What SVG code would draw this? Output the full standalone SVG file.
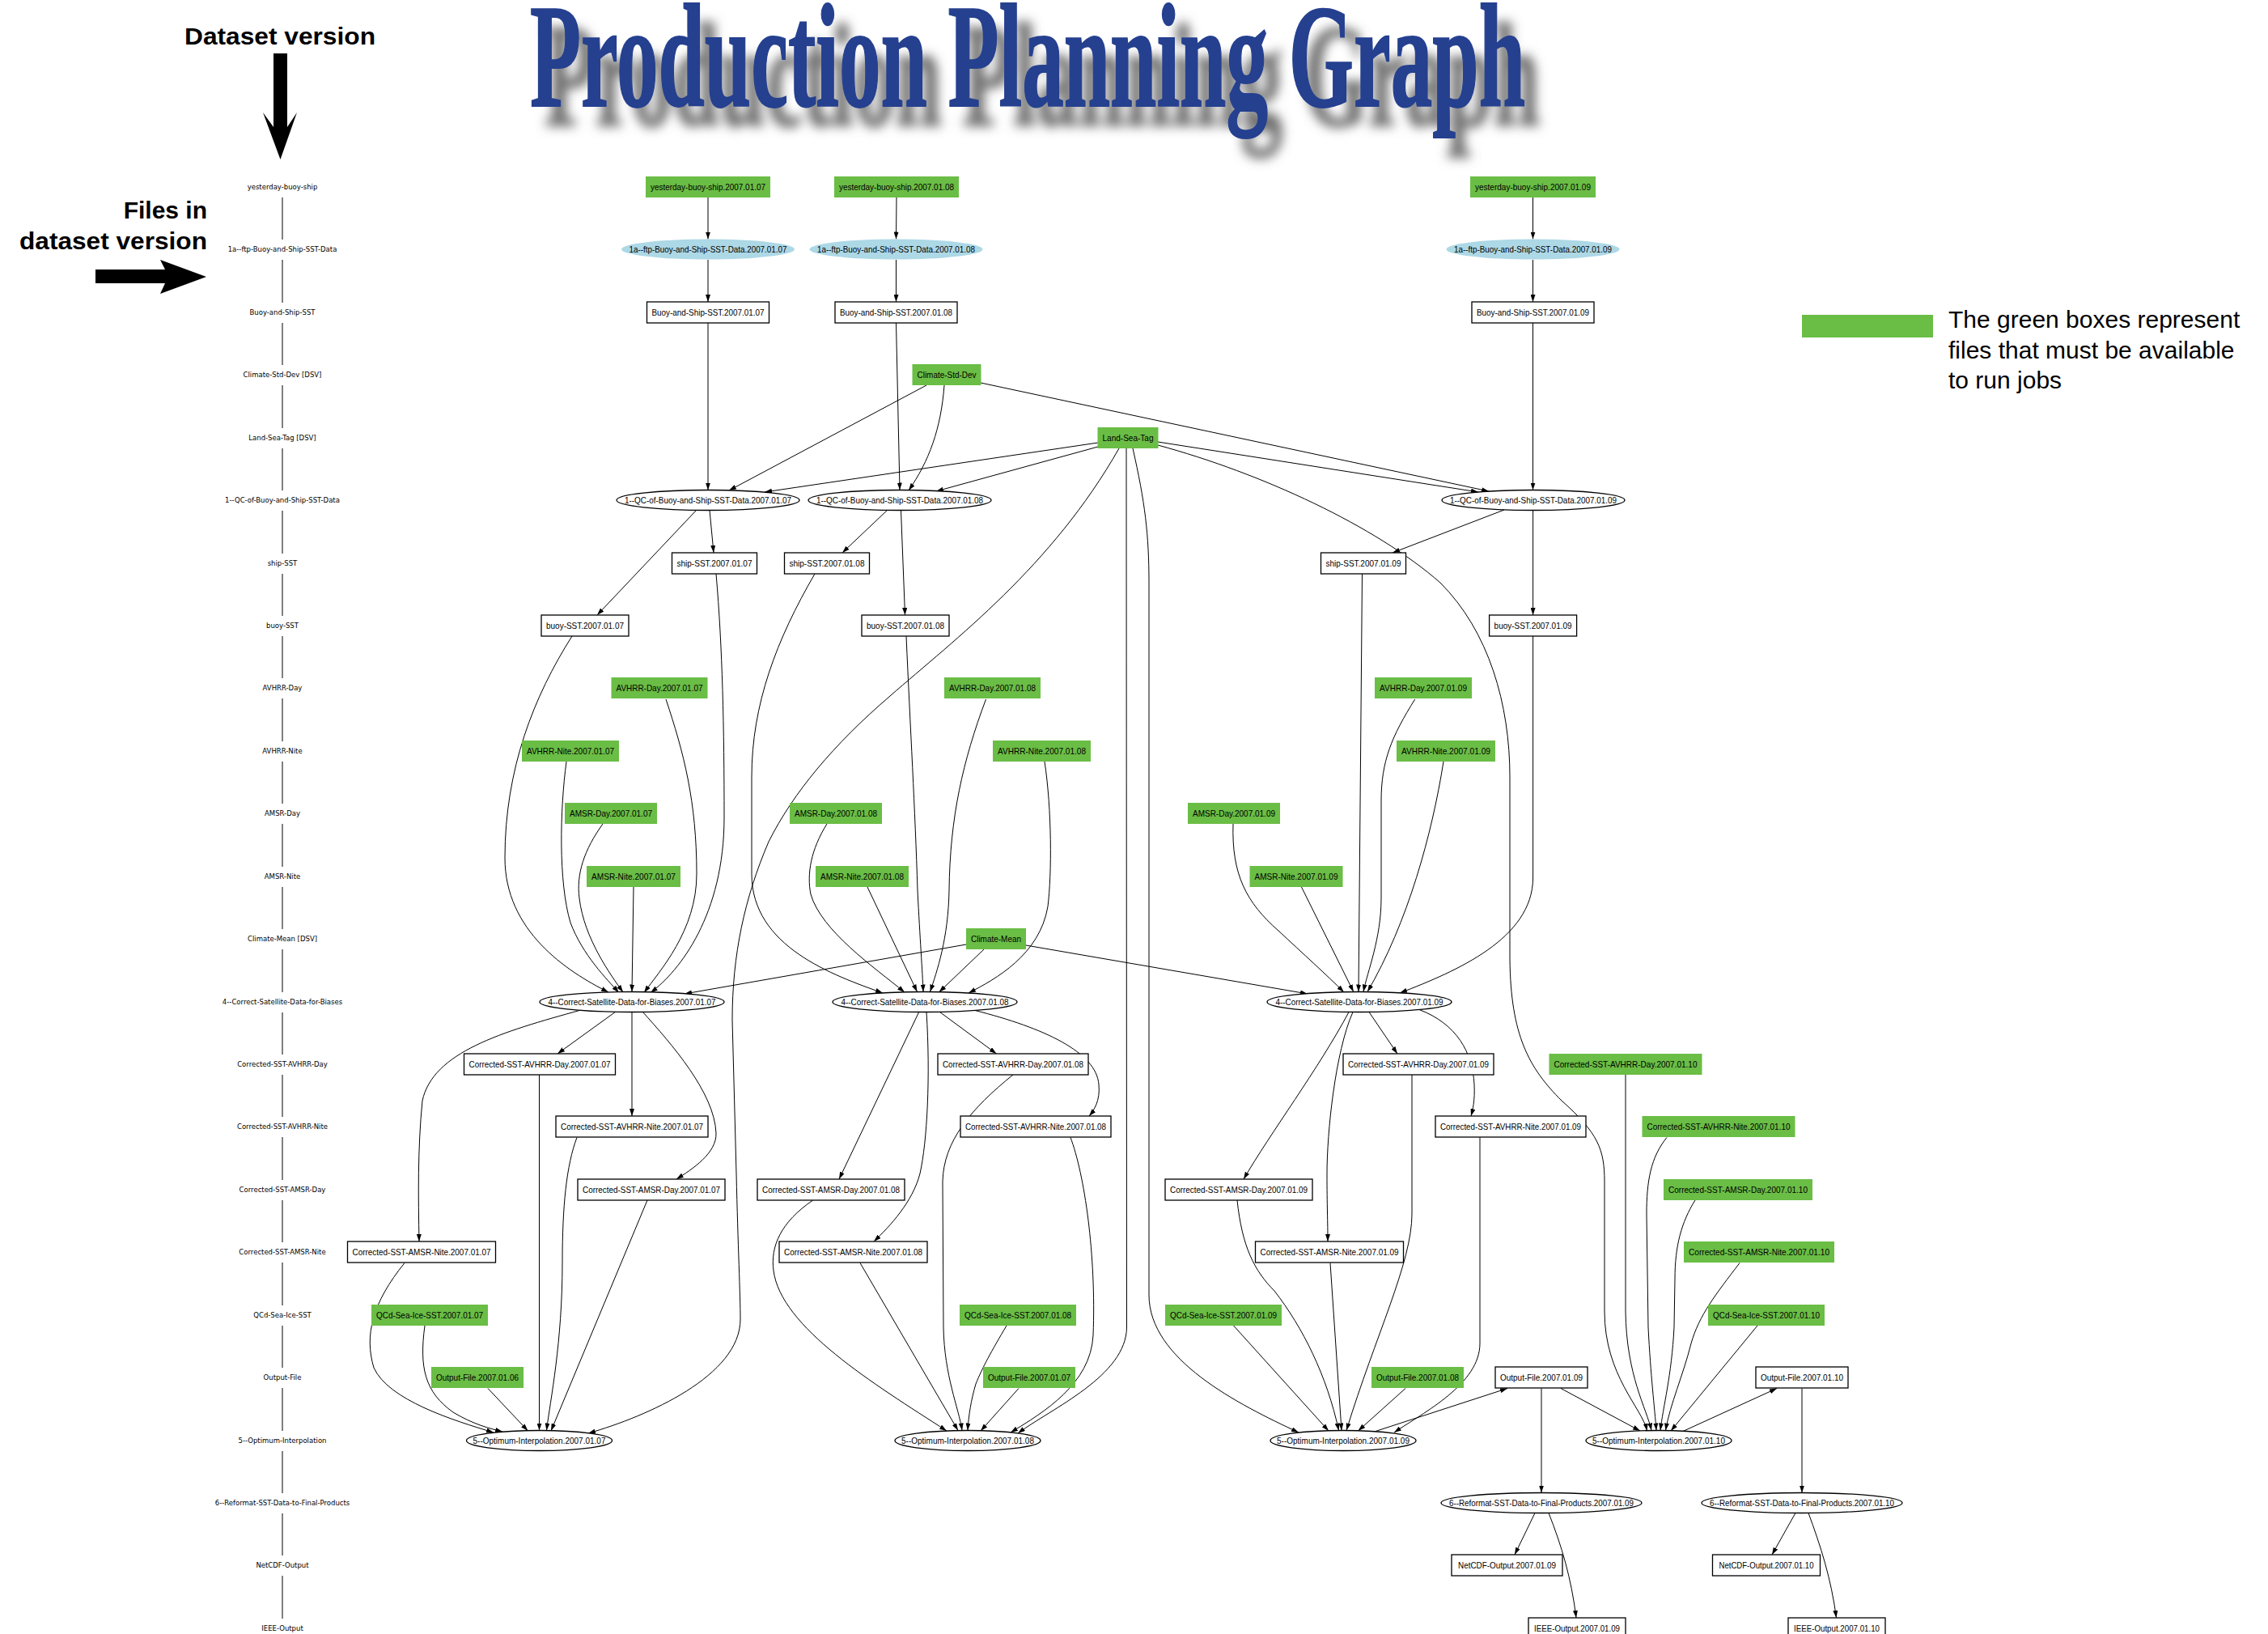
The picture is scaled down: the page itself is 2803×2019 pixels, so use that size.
<svg xmlns="http://www.w3.org/2000/svg" xmlns:xlink="http://www.w3.org/1999/xlink" width="2803" height="2019" viewBox="0 0 2803 2019">
<defs>
<style>
.g{fill:#6abd45}
.w{fill:#fff;stroke:#000;stroke-width:1.3}
.b{fill:#add8e6}
.o{fill:#fff;stroke:#000;stroke-width:1.3}
.t{font-family:'Liberation Sans',Arial,sans-serif;font-size:11px;text-anchor:middle;fill:#000}
.l{font-family:'DejaVu Sans',sans-serif;font-size:8.5px;text-anchor:middle;fill:#000}
.big{font-family:'Liberation Sans',Arial,sans-serif;font-weight:bold;font-size:30px;fill:#000}
.leg{font-family:'Liberation Sans',Arial,sans-serif;font-size:30px;fill:#000}
#edges path{fill:none;stroke:#000;stroke-width:1;marker-end:url(#ar)}
#axis line{stroke:#000;stroke-width:1}
</style>
<marker id="ar" viewBox="0 0 9 6" refX="9" refY="3" markerWidth="9" markerHeight="6" markerUnits="userSpaceOnUse" orient="auto"><path d="M0,0 L9,3 L0,6 z" fill="#000"/></marker>
<filter id="blur" x="-5%" y="-30%" width="110%" height="160%"><feGaussianBlur stdDeviation="7"/></filter>
</defs>
<rect width="2803" height="2019" fill="#fff"/>

<g id="title">
<use xlink:href="#ttl" href="#ttl" transform="translate(18,24)" filter="url(#blur)" fill="#6e6e6e" stroke="#6e6e6e"/>
<g fill="#25408f" stroke="#25408f">
<text id="ttl" x="655" y="131" font-family="'Liberation Serif',serif" font-weight="bold" font-size="183" stroke-width="2" textLength="1230" lengthAdjust="spacingAndGlyphs">Production Planning Graph</text>
</g>
</g>

<g id="annotations">
<text class="big" x="228" y="55" textLength="236" lengthAdjust="spacingAndGlyphs">Dataset version</text>
<polygon points="338,66 355,66 355,157 367,139 346.5,197 325,139 338,157" fill="#000"/>
<text class="big" x="256" y="270" text-anchor="end">Files in</text>
<text class="big" x="256" y="308" text-anchor="end" textLength="232" lengthAdjust="spacingAndGlyphs">dataset version</text>
<polygon points="118,333 204,333 198,321 255,342 198,363 204,350 118,350" fill="#000"/>
</g>

<g id="legend">
<rect x="2227" y="389" width="162" height="28" fill="#6abd45"/>
<text class="leg" x="2408" y="405">The green boxes represent</text>
<text class="leg" x="2408" y="443">files that must be available</text>
<text class="leg" x="2408" y="480">to run jobs</text>
</g>

<g id="axis">
<text class="l" x="349" y="234">yesterday-buoy-ship</text>
<text class="l" x="349" y="311">1a--ftp-Buoy-and-Ship-SST-Data</text>
<text class="l" x="349" y="389">Buoy-and-Ship-SST</text>
<text class="l" x="349" y="466">Climate-Std-Dev [DSV]</text>
<text class="l" x="349" y="544">Land-Sea-Tag [DSV]</text>
<text class="l" x="349" y="621">1--QC-of-Buoy-and-Ship-SST-Data</text>
<text class="l" x="349" y="699">ship-SST</text>
<text class="l" x="349" y="776">buoy-SST</text>
<text class="l" x="349" y="853">AVHRR-Day</text>
<text class="l" x="349" y="931">AVHRR-Nite</text>
<text class="l" x="349" y="1008">AMSR-Day</text>
<text class="l" x="349" y="1086">AMSR-Nite</text>
<text class="l" x="349" y="1163">Climate-Mean [DSV]</text>
<text class="l" x="349" y="1241">4--Correct-Satellite-Data-for-Biases</text>
<text class="l" x="349" y="1318">Corrected-SST-AVHRR-Day</text>
<text class="l" x="349" y="1395">Corrected-SST-AVHRR-Nite</text>
<text class="l" x="349" y="1473">Corrected-SST-AMSR-Day</text>
<text class="l" x="349" y="1550">Corrected-SST-AMSR-Nite</text>
<text class="l" x="349" y="1628">QCd-Sea-Ice-SST</text>
<text class="l" x="349" y="1705">Output-File</text>
<text class="l" x="349" y="1783">5--Optimum-Interpolation</text>
<text class="l" x="349" y="1860">6--Reformat-SST-Data-to-Final-Products</text>
<text class="l" x="349" y="1937">NetCDF-Output</text>
<text class="l" x="349" y="2015">IEEE-Output</text>
<line x1="349" y1="244" x2="349" y2="296"/>
<line x1="349" y1="321" x2="349" y2="374"/>
<line x1="349" y1="399" x2="349" y2="451"/>
<line x1="349" y1="476" x2="349" y2="529"/>
<line x1="349" y1="554" x2="349" y2="606"/>
<line x1="349" y1="631" x2="349" y2="684"/>
<line x1="349" y1="709" x2="349" y2="761"/>
<line x1="349" y1="786" x2="349" y2="838"/>
<line x1="349" y1="863" x2="349" y2="916"/>
<line x1="349" y1="941" x2="349" y2="993"/>
<line x1="349" y1="1018" x2="349" y2="1071"/>
<line x1="349" y1="1096" x2="349" y2="1148"/>
<line x1="349" y1="1173" x2="349" y2="1226"/>
<line x1="349" y1="1251" x2="349" y2="1303"/>
<line x1="349" y1="1328" x2="349" y2="1380"/>
<line x1="349" y1="1405" x2="349" y2="1458"/>
<line x1="349" y1="1483" x2="349" y2="1535"/>
<line x1="349" y1="1560" x2="349" y2="1613"/>
<line x1="349" y1="1638" x2="349" y2="1690"/>
<line x1="349" y1="1715" x2="349" y2="1768"/>
<line x1="349" y1="1793" x2="349" y2="1845"/>
<line x1="349" y1="1870" x2="349" y2="1922"/>
<line x1="349" y1="1947" x2="349" y2="2000"/>
</g>

<g id="edges">
<path d="M875,244 L875,295.5"/>
<path d="M875,321 L875,373"/>
<path d="M875,399 L875,605.5"/>
<path d="M1145,476 L901,606"/>
<path d="M1357,547 L945,608"/>
<path d="M877,630.5 L882,683"/>
<path d="M861,630 L738,760"/>
<path d="M707,786 C660,860 624,950 624,1060 C624,1150 700,1200 752,1226"/>
<path d="M700,941 C692,1000 690,1090 705,1140 C720,1180 750,1210 765,1226.5"/>
<path d="M745,1018 C722,1050 712,1080 716,1110 C722,1160 755,1205 770,1226"/>
<path d="M783,1096 L781,1225.5"/>
<path d="M823,864 C845,930 861,990 861,1080 C861,1150 815,1200 796,1226.5"/>
<path d="M885,709 C893,800 895,900 895,1010 C895,1130 840,1200 804,1226.5"/>
<path d="M1194,1167 L846,1228"/>
<path d="M761,1250 L689,1302"/>
<path d="M781,1250.5 L781,1379"/>
<path d="M794,1250 C830,1290 883,1350 885,1400 C886,1425 855,1445 836,1457"/>
<path d="M718,1248 C620,1275 535,1300 522,1360 C516,1420 517,1480 518,1534"/>
<path d="M666.5,1328 L666.5,1767.5"/>
<path d="M713,1405.5 C700,1440 695,1490 695,1560 C695,1660 680,1730 675.5,1767.5"/>
<path d="M800,1483 L681,1768"/>
<path d="M500,1560.5 C460,1610 450,1650 462,1690 C480,1730 560,1755 610,1770"/>
<path d="M525,1638 C518,1690 525,1720 560,1745 C585,1760 605,1765 621,1769"/>
<path d="M603,1715.5 L652.5,1768"/>
<path d="M1383,554 C1300,700 1180,790 1100,860 C1030,920 980,980 950,1040 C920,1110 905,1180 905,1260 L910,1450 C912,1540 915,1600 915,1630 C915,1700 800,1750 727,1771"/>

<path d="M1108,244 L1107.5,295.5"/>
<path d="M1107.5,321 L1107.5,373"/>
<path d="M1107.5,399 L1112,605.5"/>
<path d="M1167,476 C1163,530 1148,570 1123,606"/>
<path d="M1357,552 L1157,607"/>
<path d="M1097,630 L1041,683"/>
<path d="M1113.5,631 L1118.5,760"/>
<path d="M1007,709 C960,790 929,870 929,960 L929,1080 C929,1170 1030,1205 1091,1227"/>
<path d="M1120,786 C1125,900 1131,1000 1134,1100 C1137,1160 1140,1200 1141,1225.5"/>
<path d="M1218.5,864 C1190,940 1174,1010 1173,1100 C1172,1160 1158,1200 1149.5,1225.5"/>
<path d="M1291,941 C1300,1000 1300,1080 1295,1120 C1285,1180 1230,1210 1197,1227"/>
<path d="M1022,1018 C1002,1050 997,1080 1002,1105 C1015,1150 1080,1195 1118,1226"/>
<path d="M1072,1096 L1133.5,1225.5"/>
<path d="M1216,1173 L1160.5,1226"/>
<path d="M1268,1168 L1616,1228"/>
<path d="M1161.5,1250.5 L1231.5,1302"/>
<path d="M1205,1248.5 C1290,1270 1355,1300 1358,1340 C1360,1360 1352,1372 1346,1379"/>
<path d="M1135.7,1250.5 L1037,1457"/>
<path d="M1145,1250.5 C1150,1330 1146,1410 1137,1450 C1128,1485 1100,1515 1080,1534"/>
<path d="M1004.7,1483 C965,1510 952,1540 956,1570 C965,1640 1080,1710 1170,1768"/>
<path d="M1063,1560.5 L1184,1767.5"/>
<path d="M1252,1328 C1200,1370 1166,1410 1165,1460 L1166,1640 C1167,1700 1185,1740 1189,1767.5"/>
<path d="M1244,1638 C1225,1670 1214,1690 1206,1710 C1200,1730 1197,1750 1196,1767.5"/>
<path d="M1259,1715.5 L1212,1768"/>
<path d="M1323,1405.5 C1340,1450 1355,1550 1351,1650 C1348,1710 1290,1745 1249,1770"/>
<path d="M1392,554 L1392.5,1640 C1392,1700 1300,1740 1258,1771"/>

<path d="M1894.5,244 L1894.5,295.5"/>
<path d="M1894.5,321 L1894.5,373"/>
<path d="M1894.5,399 L1894.5,605.5"/>
<path d="M1212,473 L1840,607"/>
<path d="M1431,546 L1827,608"/>
<path d="M1431,550 C1560,585 1700,650 1780,720 C1840,780 1866,870 1866,960 L1866,1185 C1867,1280 1890,1320 1930,1360 C1975,1400 1983,1420 1983,1460 L1983,1620 C1983,1700 2030,1740 2035.5,1768"/>
<path d="M1859,630 L1721,683"/>
<path d="M1894.6,631 L1894.6,760"/>
<path d="M1683.5,709 L1679,1225.5"/>
<path d="M1894.6,786 L1894.6,1085 C1894,1160 1800,1200 1730,1227"/>
<path d="M1748.7,864 C1720,910 1707,940 1707,990 L1707,1110 C1707,1160 1690,1200 1685,1225.5"/>
<path d="M1784,941 C1770,1030 1740,1140 1690,1225.5"/>
<path d="M1524,1018 C1522,1080 1540,1115 1580,1150 C1610,1178 1640,1205 1661,1226"/>
<path d="M1608.5,1096 L1672.8,1225.5"/>
<path d="M1692,1250.5 L1727,1302"/>
<path d="M1754,1247.5 C1800,1265 1820,1300 1822,1340 C1823,1360 1820,1372 1818,1379"/>
<path d="M1667,1250.5 C1630,1320 1570,1400 1537,1457"/>
<path d="M1672,1250.5 C1650,1300 1640,1400 1640,1450 C1640,1490 1641,1510 1641,1534"/>
<path d="M1529,1483 C1535,1540 1550,1570 1575,1595 C1610,1640 1640,1700 1654.5,1767.5"/>
<path d="M1644,1560.5 L1658,1767.5"/>
<path d="M1745,1328 L1745,1500 C1745,1560 1700,1650 1664,1767.5"/>
<path d="M1829,1405.5 L1829,1660 C1829,1710 1760,1745 1723,1770"/>
<path d="M1524.6,1638 L1642,1768"/>
<path d="M1737,1715.5 L1678.5,1768"/>
<path d="M1400,554 C1415,620 1420,660 1420,720 L1420,1600 C1420,1680 1530,1735 1605,1770"/>
<path d="M1700,1768.5 L1863,1715.5"/>
<path d="M1929,1715.5 L2027,1768"/>
<path d="M1905,1715.5 L1905,1844.5"/>
<path d="M1897,1869.5 L1872,1921"/>
<path d="M1914,1869.5 C1930,1910 1942,1950 1948,1999"/>

<path d="M2009,1328 L2009,1620 C2010,1700 2035,1740 2041,1767.5"/>
<path d="M2060,1405.5 C2040,1430 2035,1460 2035,1500 L2037,1640 C2040,1700 2045,1740 2047,1767.5"/>
<path d="M2095,1483 C2078,1510 2070,1540 2070,1580 L2069,1640 C2066,1700 2055,1740 2052,1767.5"/>
<path d="M2150,1560.5 C2120,1600 2100,1625 2090,1660 C2080,1700 2064,1735 2058.5,1767.5"/>
<path d="M2172,1638 L2065,1768"/>
<path d="M2080,1768.5 L2196,1715.5"/>
<path d="M2227,1715.5 L2227,1844.5"/>
<path d="M2219,1869.5 L2190,1921"/>
<path d="M2235,1869.5 C2250,1910 2263,1950 2269.5,1999"/>
</g>

<g id="nodes">
<g id="y07"><rect class="g" x="798" y="218" width="154" height="26"/><text class="t" x="875" y="235" textLength="142" lengthAdjust="spacingAndGlyphs">yesterday-buoy-ship.2007.01.07</text></g>
<g id="ftp07"><ellipse class="b" cx="875" cy="308" rx="107" ry="12.5"/><text class="t" x="875" y="312" textLength="195" lengthAdjust="spacingAndGlyphs">1a--ftp-Buoy-and-Ship-SST-Data.2007.01.07</text></g>
<g id="bss07"><rect class="w" x="799.5" y="373" width="151" height="26"/><text class="t" x="875" y="390" textLength="139" lengthAdjust="spacingAndGlyphs">Buoy-and-Ship-SST.2007.01.07</text></g>
<g id="qc07"><ellipse class="o" cx="875" cy="618" rx="113" ry="12.5"/><text class="t" x="875" y="622" textLength="206" lengthAdjust="spacingAndGlyphs">1--QC-of-Buoy-and-Ship-SST-Data.2007.01.07</text></g>
<g id="ship07"><rect class="w" x="830.5" y="683" width="105" height="26"/><text class="t" x="883" y="700" textLength="93" lengthAdjust="spacingAndGlyphs">ship-SST.2007.01.07</text></g>
<g id="buoy07"><rect class="w" x="669" y="760" width="108" height="26"/><text class="t" x="723" y="777" textLength="96" lengthAdjust="spacingAndGlyphs">buoy-SST.2007.01.07</text></g>
<g id="avd07"><rect class="g" x="755.5" y="837" width="119" height="26"/><text class="t" x="815" y="854" textLength="107" lengthAdjust="spacingAndGlyphs">AVHRR-Day.2007.01.07</text></g>
<g id="avn07"><rect class="g" x="645" y="915" width="120" height="26"/><text class="t" x="705" y="932" textLength="108" lengthAdjust="spacingAndGlyphs">AVHRR-Nite.2007.01.07</text></g>
<g id="amd07"><rect class="g" x="698" y="992" width="114" height="26"/><text class="t" x="755" y="1009" textLength="102" lengthAdjust="spacingAndGlyphs">AMSR-Day.2007.01.07</text></g>
<g id="amn07"><rect class="g" x="725" y="1070" width="116" height="26"/><text class="t" x="783" y="1087" textLength="104" lengthAdjust="spacingAndGlyphs">AMSR-Nite.2007.01.07</text></g>
<g id="cor07"><ellipse class="o" cx="781" cy="1238" rx="114" ry="12.5"/><text class="t" x="781" y="1242" textLength="207" lengthAdjust="spacingAndGlyphs">4--Correct-Satellite-Data-for-Biases.2007.01.07</text></g>
<g id="cavd07"><rect class="w" x="573.5" y="1302" width="187" height="26"/><text class="t" x="667" y="1319" textLength="175" lengthAdjust="spacingAndGlyphs">Corrected-SST-AVHRR-Day.2007.01.07</text></g>
<g id="cavn07"><rect class="w" x="687" y="1379" width="188" height="26"/><text class="t" x="781" y="1396" textLength="176" lengthAdjust="spacingAndGlyphs">Corrected-SST-AVHRR-Nite.2007.01.07</text></g>
<g id="camd07"><rect class="w" x="714" y="1457" width="182" height="26"/><text class="t" x="805" y="1474" textLength="170" lengthAdjust="spacingAndGlyphs">Corrected-SST-AMSR-Day.2007.01.07</text></g>
<g id="camn07"><rect class="w" x="429.5" y="1534" width="183" height="26"/><text class="t" x="521" y="1551" textLength="171" lengthAdjust="spacingAndGlyphs">Corrected-SST-AMSR-Nite.2007.01.07</text></g>
<g id="qcd07"><rect class="g" x="459" y="1612" width="144" height="26"/><text class="t" x="531" y="1629" textLength="132" lengthAdjust="spacingAndGlyphs">QCd-Sea-Ice-SST.2007.01.07</text></g>
<g id="out06"><rect class="g" x="533" y="1689" width="114" height="26"/><text class="t" x="590" y="1706" textLength="102" lengthAdjust="spacingAndGlyphs">Output-File.2007.01.06</text></g>
<g id="oi07"><ellipse class="o" cx="666.5" cy="1780" rx="90" ry="12.5"/><text class="t" x="666.5" y="1784" textLength="164" lengthAdjust="spacingAndGlyphs">5--Optimum-Interpolation.2007.01.07</text></g>

<g id="y08"><rect class="g" x="1031" y="218" width="154" height="26"/><text class="t" x="1108" y="235" textLength="142" lengthAdjust="spacingAndGlyphs">yesterday-buoy-ship.2007.01.08</text></g>
<g id="ftp08"><ellipse class="b" cx="1107.5" cy="308" rx="107" ry="12.5"/><text class="t" x="1107.5" y="312" textLength="195" lengthAdjust="spacingAndGlyphs">1a--ftp-Buoy-and-Ship-SST-Data.2007.01.08</text></g>
<g id="bss08"><rect class="w" x="1032" y="373" width="151" height="26"/><text class="t" x="1107.5" y="390" textLength="139" lengthAdjust="spacingAndGlyphs">Buoy-and-Ship-SST.2007.01.08</text></g>
<g id="csd"><rect class="g" x="1127.5" y="450" width="85" height="26"/><text class="t" x="1170" y="467" textLength="73" lengthAdjust="spacingAndGlyphs">Climate-Std-Dev</text></g>
<g id="lst"><rect class="g" x="1356.5" y="528" width="75" height="26"/><text class="t" x="1394" y="545" textLength="63" lengthAdjust="spacingAndGlyphs">Land-Sea-Tag</text></g>
<g id="qc08"><ellipse class="o" cx="1112" cy="618" rx="113" ry="12.5"/><text class="t" x="1112" y="622" textLength="206" lengthAdjust="spacingAndGlyphs">1--QC-of-Buoy-and-Ship-SST-Data.2007.01.08</text></g>
<g id="ship08"><rect class="w" x="969.5" y="683" width="105" height="26"/><text class="t" x="1022" y="700" textLength="93" lengthAdjust="spacingAndGlyphs">ship-SST.2007.01.08</text></g>
<g id="buoy08"><rect class="w" x="1065" y="760" width="108" height="26"/><text class="t" x="1119" y="777" textLength="96" lengthAdjust="spacingAndGlyphs">buoy-SST.2007.01.08</text></g>
<g id="avd08"><rect class="g" x="1167" y="837" width="119" height="26"/><text class="t" x="1226.5" y="854" textLength="107" lengthAdjust="spacingAndGlyphs">AVHRR-Day.2007.01.08</text></g>
<g id="avn08"><rect class="g" x="1227" y="915" width="121" height="26"/><text class="t" x="1287.5" y="932" textLength="109" lengthAdjust="spacingAndGlyphs">AVHRR-Nite.2007.01.08</text></g>
<g id="amd08"><rect class="g" x="976" y="992" width="114" height="26"/><text class="t" x="1033" y="1009" textLength="102" lengthAdjust="spacingAndGlyphs">AMSR-Day.2007.01.08</text></g>
<g id="amn08"><rect class="g" x="1008" y="1070" width="115" height="26"/><text class="t" x="1065.5" y="1087" textLength="103" lengthAdjust="spacingAndGlyphs">AMSR-Nite.2007.01.08</text></g>
<g id="clm"><rect class="g" x="1194" y="1147" width="74" height="26"/><text class="t" x="1231" y="1164" textLength="62" lengthAdjust="spacingAndGlyphs">Climate-Mean</text></g>
<g id="cor08"><ellipse class="o" cx="1143" cy="1238" rx="114" ry="12.5"/><text class="t" x="1143" y="1242" textLength="207" lengthAdjust="spacingAndGlyphs">4--Correct-Satellite-Data-for-Biases.2007.01.08</text></g>
<g id="cavd08"><rect class="w" x="1159" y="1302" width="186" height="26"/><text class="t" x="1252" y="1319" textLength="174" lengthAdjust="spacingAndGlyphs">Corrected-SST-AVHRR-Day.2007.01.08</text></g>
<g id="cavn08"><rect class="w" x="1187" y="1379" width="186" height="26"/><text class="t" x="1280" y="1396" textLength="174" lengthAdjust="spacingAndGlyphs">Corrected-SST-AVHRR-Nite.2007.01.08</text></g>
<g id="camd08"><rect class="w" x="936" y="1457" width="182" height="26"/><text class="t" x="1027" y="1474" textLength="170" lengthAdjust="spacingAndGlyphs">Corrected-SST-AMSR-Day.2007.01.08</text></g>
<g id="camn08"><rect class="w" x="963" y="1534" width="183" height="26"/><text class="t" x="1054.5" y="1551" textLength="171" lengthAdjust="spacingAndGlyphs">Corrected-SST-AMSR-Nite.2007.01.08</text></g>
<g id="qcd08"><rect class="g" x="1186" y="1612" width="144" height="26"/><text class="t" x="1258" y="1629" textLength="132" lengthAdjust="spacingAndGlyphs">QCd-Sea-Ice-SST.2007.01.08</text></g>
<g id="out07"><rect class="g" x="1215" y="1689" width="114" height="26"/><text class="t" x="1272" y="1706" textLength="102" lengthAdjust="spacingAndGlyphs">Output-File.2007.01.07</text></g>
<g id="oi08"><ellipse class="o" cx="1196" cy="1780" rx="90" ry="12.5"/><text class="t" x="1196" y="1784" textLength="164" lengthAdjust="spacingAndGlyphs">5--Optimum-Interpolation.2007.01.08</text></g>

<g id="y09"><rect class="g" x="1817" y="218" width="155" height="26"/><text class="t" x="1894.5" y="235" textLength="143" lengthAdjust="spacingAndGlyphs">yesterday-buoy-ship.2007.01.09</text></g>
<g id="ftp09"><ellipse class="b" cx="1894.5" cy="308" rx="107" ry="12.5"/><text class="t" x="1894.5" y="312" textLength="195" lengthAdjust="spacingAndGlyphs">1a--ftp-Buoy-and-Ship-SST-Data.2007.01.09</text></g>
<g id="bss09"><rect class="w" x="1819" y="373" width="151" height="26"/><text class="t" x="1894.5" y="390" textLength="139" lengthAdjust="spacingAndGlyphs">Buoy-and-Ship-SST.2007.01.09</text></g>
<g id="qc09"><ellipse class="o" cx="1895" cy="618" rx="113" ry="12.5"/><text class="t" x="1895" y="622" textLength="206" lengthAdjust="spacingAndGlyphs">1--QC-of-Buoy-and-Ship-SST-Data.2007.01.09</text></g>
<g id="ship09"><rect class="w" x="1632.5" y="683" width="105" height="26"/><text class="t" x="1685" y="700" textLength="93" lengthAdjust="spacingAndGlyphs">ship-SST.2007.01.09</text></g>
<g id="buoy09"><rect class="w" x="1840.6" y="760" width="108" height="26"/><text class="t" x="1894.6" y="777" textLength="96" lengthAdjust="spacingAndGlyphs">buoy-SST.2007.01.09</text></g>
<g id="avd09"><rect class="g" x="1699" y="837" width="120" height="26"/><text class="t" x="1759" y="854" textLength="108" lengthAdjust="spacingAndGlyphs">AVHRR-Day.2007.01.09</text></g>
<g id="avn09"><rect class="g" x="1726" y="915" width="122" height="26"/><text class="t" x="1787" y="932" textLength="110" lengthAdjust="spacingAndGlyphs">AVHRR-Nite.2007.01.09</text></g>
<g id="amd09"><rect class="g" x="1468" y="992" width="114" height="26"/><text class="t" x="1525" y="1009" textLength="102" lengthAdjust="spacingAndGlyphs">AMSR-Day.2007.01.09</text></g>
<g id="amn09"><rect class="g" x="1544.5" y="1070" width="115" height="26"/><text class="t" x="1602" y="1087" textLength="103" lengthAdjust="spacingAndGlyphs">AMSR-Nite.2007.01.09</text></g>
<g id="cor09"><ellipse class="o" cx="1680" cy="1238" rx="114" ry="12.5"/><text class="t" x="1680" y="1242" textLength="207" lengthAdjust="spacingAndGlyphs">4--Correct-Satellite-Data-for-Biases.2007.01.09</text></g>
<g id="cavd09"><rect class="w" x="1660" y="1302" width="186" height="26"/><text class="t" x="1753" y="1319" textLength="174" lengthAdjust="spacingAndGlyphs">Corrected-SST-AVHRR-Day.2007.01.09</text></g>
<g id="cavn09"><rect class="w" x="1774" y="1379" width="186" height="26"/><text class="t" x="1867" y="1396" textLength="174" lengthAdjust="spacingAndGlyphs">Corrected-SST-AVHRR-Nite.2007.01.09</text></g>
<g id="camd09"><rect class="w" x="1440" y="1457" width="182" height="26"/><text class="t" x="1531" y="1474" textLength="170" lengthAdjust="spacingAndGlyphs">Corrected-SST-AMSR-Day.2007.01.09</text></g>
<g id="camn09"><rect class="w" x="1551.5" y="1534" width="183" height="26"/><text class="t" x="1643" y="1551" textLength="171" lengthAdjust="spacingAndGlyphs">Corrected-SST-AMSR-Nite.2007.01.09</text></g>
<g id="qcd09"><rect class="g" x="1440" y="1612" width="144" height="26"/><text class="t" x="1512" y="1629" textLength="132" lengthAdjust="spacingAndGlyphs">QCd-Sea-Ice-SST.2007.01.09</text></g>
<g id="out08"><rect class="g" x="1695" y="1689" width="114" height="26"/><text class="t" x="1752" y="1706" textLength="102" lengthAdjust="spacingAndGlyphs">Output-File.2007.01.08</text></g>
<g id="out09"><rect class="w" x="1848" y="1689" width="114" height="26"/><text class="t" x="1905" y="1706" textLength="102" lengthAdjust="spacingAndGlyphs">Output-File.2007.01.09</text></g>
<g id="oi09"><ellipse class="o" cx="1660" cy="1780" rx="90" ry="12.5"/><text class="t" x="1660" y="1784" textLength="164" lengthAdjust="spacingAndGlyphs">5--Optimum-Interpolation.2007.01.09</text></g>
<g id="ref09"><ellipse class="o" cx="1905" cy="1857" rx="124" ry="12.5"/><text class="t" x="1905" y="1861" textLength="228" lengthAdjust="spacingAndGlyphs">6--Reformat-SST-Data-to-Final-Products.2007.01.09</text></g>
<g id="net09"><rect class="w" x="1794" y="1921" width="137" height="26"/><text class="t" x="1862.5" y="1938" textLength="121" lengthAdjust="spacingAndGlyphs">NetCDF-Output.2007.01.09</text></g>
<g id="ieee09"><rect class="w" x="1889" y="1999" width="120" height="26"/><text class="t" x="1949" y="2016" textLength="106" lengthAdjust="spacingAndGlyphs">IEEE-Output.2007.01.09</text></g>

<g id="cavd10"><rect class="g" x="1914.5" y="1302" width="189" height="26"/><text class="t" x="2009" y="1319" textLength="177" lengthAdjust="spacingAndGlyphs">Corrected-SST-AVHRR-Day.2007.01.10</text></g>
<g id="cavn10"><rect class="g" x="2029.5" y="1379" width="189" height="26"/><text class="t" x="2124" y="1396" textLength="177" lengthAdjust="spacingAndGlyphs">Corrected-SST-AVHRR-Nite.2007.01.10</text></g>
<g id="camd10"><rect class="g" x="2056" y="1457" width="184" height="26"/><text class="t" x="2148" y="1474" textLength="172" lengthAdjust="spacingAndGlyphs">Corrected-SST-AMSR-Day.2007.01.10</text></g>
<g id="camn10"><rect class="g" x="2081" y="1534" width="186" height="26"/><text class="t" x="2174" y="1551" textLength="174" lengthAdjust="spacingAndGlyphs">Corrected-SST-AMSR-Nite.2007.01.10</text></g>
<g id="qcd10"><rect class="g" x="2111" y="1612" width="144" height="26"/><text class="t" x="2183" y="1629" textLength="132" lengthAdjust="spacingAndGlyphs">QCd-Sea-Ice-SST.2007.01.10</text></g>
<g id="out10"><rect class="w" x="2170" y="1689" width="114" height="26"/><text class="t" x="2227" y="1706" textLength="102" lengthAdjust="spacingAndGlyphs">Output-File.2007.01.10</text></g>
<g id="oi10"><ellipse class="o" cx="2050" cy="1780" rx="90" ry="12.5"/><text class="t" x="2050" y="1784" textLength="164" lengthAdjust="spacingAndGlyphs">5--Optimum-Interpolation.2007.01.10</text></g>
<g id="ref10"><ellipse class="o" cx="2227" cy="1857" rx="124" ry="12.5"/><text class="t" x="2227" y="1861" textLength="228" lengthAdjust="spacingAndGlyphs">6--Reformat-SST-Data-to-Final-Products.2007.01.10</text></g>
<g id="net10"><rect class="w" x="2116.5" y="1921" width="133" height="26"/><text class="t" x="2183" y="1938" textLength="117" lengthAdjust="spacingAndGlyphs">NetCDF-Output.2007.01.10</text></g>
<g id="ieee10"><rect class="w" x="2210" y="1999" width="120" height="26"/><text class="t" x="2270" y="2016" textLength="106" lengthAdjust="spacingAndGlyphs">IEEE-Output.2007.01.10</text></g>
</g>
</svg>
